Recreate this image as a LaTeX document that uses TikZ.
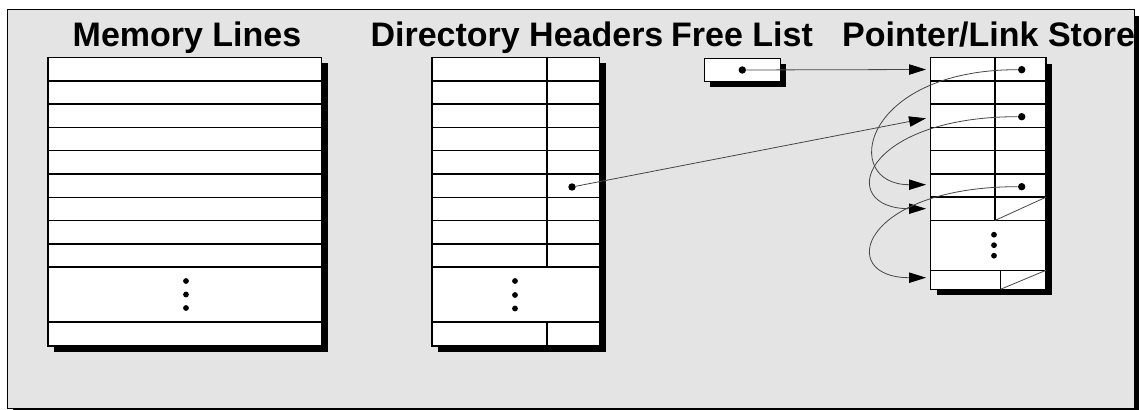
\documentclass[tikz,border=0pt]{standalone}
\usepackage{fontspec}
\setmainfont{Liberation Sans}
\usetikzlibrary{arrows.meta}

\definecolor{panel}{RGB}{228,228,228}
\definecolor{linkgray}{RGB}{70,70,70}

\begin{document}
\begin{tikzpicture}[x=0.5pt,y=-0.5pt,
		title/.style={font=\fontsize{17}{20}\selectfont\bfseries, anchor=base, inner sep=0pt},
		cell/.style={draw=black, line width=0.75pt},
		dot/.style={circle, fill=black, inner sep=0pt, minimum size=3.7pt},
		link/.style={draw=linkgray, line width=0.4pt, -{Triangle[length=8.5pt,width=5.2pt,color=black]}}]
	\useasboundingbox (0,0) rectangle (1139,410);
	% panel
	\fill[black] (13,16) rectangle (1139,410);
	\filldraw[fill=panel, draw=black, line width=0.5pt] (7,10) rectangle (1134,409);

	% titles
	\node[title] (tmem) at (187,47) {Memory Lines};
	\node[title] (tdir) at (517,47) {Directory Headers};
	\node[title] (tfree) at (742,47) {Free List};
	\node[title] (tptr) at (988.5,47) {Pointer/Link Store};

	% memory lines
	\fill[black, shift={(6,6)}] (48,57.5) rectangle (321.5,346);
	\filldraw[fill=white, cell] (48,57.5) rectangle (321.5,346);
	\foreach \i in {1,...,9}
		\draw[cell] (48,57.5+23.3*\i) -- (321.5,57.5+23.3*\i);
	\draw[cell] (48,322) -- (321.5,322);
	\foreach \y in {281,294.5,308}
		\fill (186,\y) circle (1.45pt);

	% directory headers
	\fill[black, shift={(6,6)}] (432,57.5) rectangle (599.5,346);
	\filldraw[fill=white, cell] (432,57.5) rectangle (599.5,346);
	\foreach \i in {1,...,9}
		\draw[cell] (432,57.5+23.3*\i) -- (599.5,57.5+23.3*\i);
	\draw[cell] (432,322) -- (599.5,322);
	\draw[cell] (547,57.5) -- (547,267.2);
	\draw[cell] (547,322) -- (547,346);
	\foreach \y in {281,295,308.5}
		\fill (515,\y) circle (1.45pt);
	\node[dot] (hdot) at (572,187) {};

	% free list head
	\fill[black, shift={(6,6)}] (704.3,58.3) rectangle (780.3,81.3);
	\filldraw[fill=white, cell] (704.3,58.3) rectangle (780.3,81.3);
	\node[dot] (fdot) at (742.3,70) {};

	% pointer/link store
	\fill[black, shift={(6,6)}] (930.5,57.7) rectangle (1046,289.3);
	\filldraw[fill=white, cell] (930.5,57.7) rectangle (1046,289.3);
	\foreach \i in {1,...,7}
		\draw[cell] (930.5,57.7+23.25*\i) -- (1046,57.7+23.25*\i);
	\draw[cell] (930.5,270.3) -- (1046,270.3);
	\draw[cell] (995,57.7) -- (995,220.45);
	\draw[cell] (1000.5,270.3) -- (1000.5,289.3);
	\draw[linkgray, line width=0.4pt] (995,220.45) -- (1046,197.2);
	\draw[linkgray, line width=0.4pt] (1000.5,289.3) -- (1046,270.3);
	\foreach \y in {234.7,245.2,255.7}
		\fill (994,\y) circle (1.45pt);
	\node[dot] (pdot1) at (1021.7,69.7) {};
	\node[dot] (pdot3) at (1021.7,116.7) {};
	\node[dot] (pdot6) at (1021.7,186.7) {};

	% arrow targets
	\coordinate (p1) at (926,69.5);
	\coordinate (p3) at (926,118.3);
	\coordinate (p6) at (926,184.7);
	\coordinate (p7) at (926,208.7);
	\coordinate (p9) at (926,277.7);

	% links
	\draw[link] (fdot) -- (p1);
	\draw[link] (hdot) -- (p3);
	\draw[link] (pdot1) .. controls +(-161,0) and +(-86,0) .. (p6);
	\draw[link] (pdot3) .. controls +(-161,0) and +(-91,0) .. (p7);
	\draw[link] (pdot6) .. controls +(-161,0) and +(-91,0) .. (p9);
\end{tikzpicture}
\end{document}
